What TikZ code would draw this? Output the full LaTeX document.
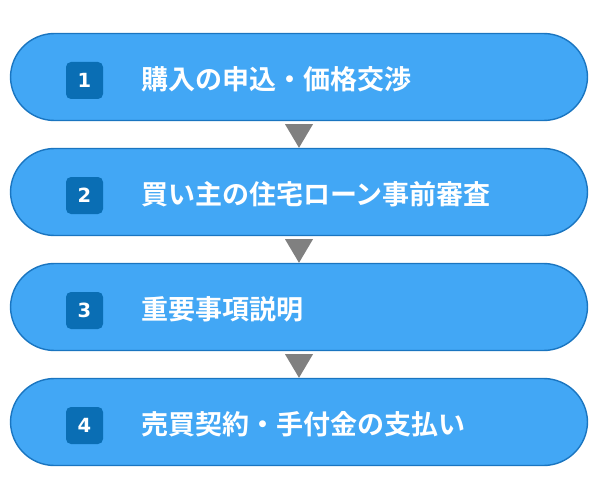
\documentclass[tikz,border=0pt]{standalone}
\usepackage{fontspec}
\setmainfont{Noto Sans CJK JP}[BoldFont={* Bold}]
\newfontfamily\numfont{DejaVu Sans}
\usetikzlibrary{calc}
\definecolor{boxfill}{HTML}{42A7F5}
\definecolor{boxline}{HTML}{1A75C0}
\definecolor{numfill}{HTML}{0A6EB4}
\definecolor{arrowgray}{HTML}{808080}
\tikzset{
  stepbox/.style={draw=boxline, fill=boxfill, line width=1.4pt, rounded corners=44pt,
    minimum width=577pt, minimum height=87pt, inner sep=0pt},
  numbox/.style={fill=numfill, rounded corners=5pt, minimum width=37pt, minimum height=37pt,
    inner sep=0pt, text=white, font=\numfont\bfseries\fontsize{19.5pt}{19.5pt}\selectfont},
  steptext/.style={anchor=west, inner sep=0pt, text=white, font=\bfseries\fontsize{27pt}{27pt}\selectfont},
  downtri/.style={fill=arrowgray}
}
\begin{document}
\begin{tikzpicture}[x=1pt,y=1pt]
\useasboundingbox (0,0) rectangle (590,-487);
\foreach \i/\c/\t in {1/77/{購入の申込・価格交渉},2/192/{買い主の住宅ローン事前審査},3/307/{重要事項説明},4/422/{売買契約・手付金の支払い}}{
  \node[stepbox] (b\i) at (299,-\c) {};
  \node[numbox] (n\i) at (84.5,-\c-3.5) {\i};
  \node[steptext] (t\i) at (141,-\c-2) {\t};
}
\foreach \a/\b in {1/2,2/3,3/4}{
  \fill[downtri] ($(b\a.south)+(-14,-3)$) -- ($(b\a.south)+(14,-3)$) -- (b\b.north) -- cycle;
}
\end{tikzpicture}
\end{document}
